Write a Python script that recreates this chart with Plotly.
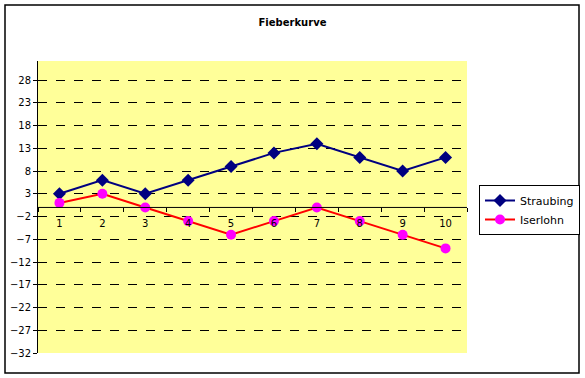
import plotly.graph_objects as go

categories = ["1", "2", "3", "4", "5", "6", "7", "8", "9", "10"]
straubing = [3, 6, 3, 6, 9, 12, 14, 11, 8, 11]
iserlohn = [1, 3, 0, -3, -6, -3, 0, -3, -6, -9]

W, H = 585, 378
ml, mr, mt, mb = 38, 118, 61, 25
ymin, ymax = -32, 32
dom = (0.0, 1.0)
zero_pos = dom[0] + (0 - ymin) / (ymax - ymin) * (dom[1] - dom[0])

fig = go.Figure()
fig.add_trace(go.Scatter(x=categories, y=straubing, name="Straubing", mode="lines+markers",
                         line=dict(color="#000080", width=2),
                         marker=dict(symbol="diamond", size=10, color="#000080")))
fig.add_trace(go.Scatter(x=categories, y=iserlohn, name="Iserlohn", mode="lines+markers",
                         line=dict(color="#FF0000", width=2),
                         marker=dict(symbol="circle", size=10, color="#FF00FF")))

pw = W - ml - mr
ph = H - mt - mb
def px_x(p):
    return (p - ml) / pw
def px_y(p):
    return (H - mb - p) / ph

fig.add_shape(type="rect", xref="paper", yref="paper",
              x0=px_x(5), x1=px_x(579), y0=px_y(373), y1=px_y(5),
              line=dict(color="black", width=1.5), layer="below")
fig.add_shape(type="line", xref="paper", yref="y", x0=0, x1=1, y0=0, y1=0,
              line=dict(color="black", width=1))

fig.update_layout(
    width=W, height=H,
    margin=dict(l=ml, r=mr, t=mt, b=mb),
    paper_bgcolor="white",
    plot_bgcolor="#FFFF99",
    font=dict(family="DejaVu Sans", size=10, color="black"),
    title=dict(text="<b>Fieberkurve</b>", x=0.5, xref="container", xanchor="center",
               y=1 - 22 / H, yref="container", yanchor="middle",
               font=dict(size=10, family="DejaVu Sans")),
    xaxis=dict(type="category", range=[-0.5, 9.5], showgrid=False, zeroline=False,
               showline=False, ticks="outside", ticklen=4, tickcolor="black",
               tickson="boundaries", anchor="free", position=zero_pos,
               ticklabelstandoff=9,
               tickfont=dict(size=10), fixedrange=True, automargin=False),
    yaxis=dict(range=[ymin, ymax + 0.2], tick0=-32, dtick=5, showgrid=True,
               gridcolor="black", griddash="dash", gridwidth=1, zeroline=False,
               showline=True, linecolor="black", linewidth=1, ticks="outside",
               ticklen=4, tickcolor="black", tickfont=dict(size=10), domain=list(dom),
               automargin=False),
    legend=dict(x=479 / W, y=1 - 185 / H, xref="container", yref="container",
                xanchor="left", yanchor="top",
                bordercolor="black", borderwidth=1, bgcolor="white",
                font=dict(size=11), tracegroupgap=0),
    showlegend=True,
)

fig.write_html("out.html", post_script="document.body.style.margin='0';",
               config={"displayModeBar": False})
